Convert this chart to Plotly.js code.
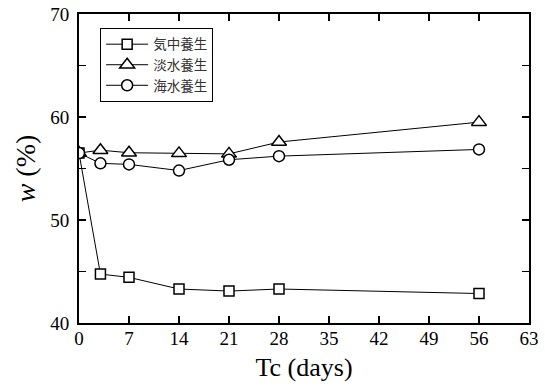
<!DOCTYPE html>
<html><head><meta charset="utf-8">
<script src="https://cdn.plot.ly/plotly-3.0.1.min.js"></script>
<style>body{margin:0;background:#fff}#chart{width:545px;height:392px}</style>
</head><body><div id="chart"></div>
<script>
const days = [0, 3, 7, 14, 21, 28, 56];
const airCuring = [56.5, 44.75, 44.43, 43.3, 43.1, 43.3, 42.86];
const freshWater = [56.5, 56.78, 56.53, 56.47, 56.42, 57.57, 59.5];
const seaWater = [56.5, 55.5, 55.4, 54.8, 55.85, 56.2, 56.85];
const names = ['気中養生', '淡水養生', '海水養生'];
const xTicks = [0, 7, 14, 21, 28, 35, 42, 49, 56, 63];

const serif = '"Liberation Serif", "Times New Roman", Times, serif';
const mk = (sym, size) => ({symbol: sym, size: size, color: 'white', line: {color: 'black', width: 1.5}});
const traces = [
  {x: days, y: airCuring, name: names[0], mode: 'lines+markers', line: {color: 'black', width: 1}, marker: mk('square', 10)},
  {x: days, y: freshWater, name: names[1], mode: 'lines+markers', line: {color: 'black', width: 1}, marker: mk('triangle-up', 13)},
  {x: days, y: seaWater, name: names[2], mode: 'lines+markers', line: {color: 'black', width: 1}, marker: mk('circle', 11)}
];
const layout = {
  width: 545, height: 392,
  margin: {l: 79, r: 16, t: 14, b: 69},
  paper_bgcolor: 'white', plot_bgcolor: 'white',
  font: {family: serif},
  showlegend: true,
  legend: {x: 0.047, y: 0.955, xanchor: 'left', yanchor: 'top', bordercolor: 'black', borderwidth: 1,
           bgcolor: 'white', font: {family: '"Noto Sans CJK JP"', size: 13.5, color: '#333'}, tracegroupgap: 0, itemwidth: 42},
  xaxis: {range: [0, 63], tickvals: xTicks, ticks: 'inside', ticklen: 7, tickwidth: 1.5, tickcolor: 'black',
          showline: true, linecolor: 'black', linewidth: 2, mirror: 'ticks', showgrid: false, zeroline: false,
          tickfont: {family: serif, size: 19, color: 'black'}, ticklabelstandoff: -3,
          title: {text: 'Tc (days)', font: {family: serif, size: 26, color: 'black'}, standoff: 10}},
  yaxis: {range: [40, 70], dtick: 10, tick0: 40, ticks: 'inside', ticklen: 7, tickwidth: 1.5, tickcolor: 'black',
          minor: {dtick: 5, ticks: 'inside', ticklen: 7, tickwidth: 1.5, tickcolor: 'black', showgrid: false},
          showline: true, linecolor: 'black', linewidth: 2, mirror: 'ticks', showgrid: false, zeroline: false,
          tickfont: {family: serif, size: 19, color: 'black'}, ticklabelstandoff: 4,
          title: {text: '<i>w</i> (%)', font: {family: serif, size: 28, color: 'black'}, standoff: 6}}
};
Plotly.newPlot('chart', traces, layout, {displayModeBar: false, staticPlot: true});
</script></body></html>
